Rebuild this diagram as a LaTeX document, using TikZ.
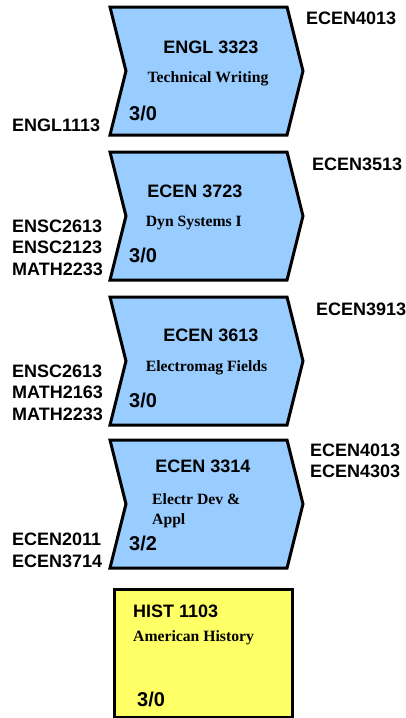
\documentclass[tikz,border=0pt]{standalone}
\usepackage{fontspec}
\setmainfont{Liberation Serif}
\newfontfamily\arialfont{Liberation Sans}
\usetikzlibrary{shapes.symbols,positioning}
\definecolor{courseblue}{RGB}{153,204,255}
\definecolor{courseyellow}{RGB}{255,255,102}

\begin{document}
\begin{tikzpicture}[x=1pt, y=-1pt,
  course/.style={draw, line width=3pt, fill=courseblue, signal, signal from=west, signal to=east, signal pointer angle=152, minimum width=193pt, minimum height=128pt, inner sep=0pt},
  elective/.style={draw, line width=3pt, fill=courseyellow, rectangle, minimum width=178pt, minimum height=128pt, inner sep=0pt},
  code/.style={font=\arialfont\bfseries\fontsize{18}{21.5}\selectfont, inner sep=0pt, anchor=base},
  credit/.style={font=\arialfont\bfseries\fontsize{20}{24}\selectfont, inner sep=0pt, anchor=base west},
  title/.style={font=\bfseries\fontsize{15.7}{20}\selectfont, inner sep=0pt, anchor=base},
  prereq/.style={font=\arialfont\bfseries\fontsize{18}{21.5}\selectfont, inner sep=0pt, anchor=base west, align=left}]
  \useasboundingbox (0,0) rectangle (406,718);

  % ENGL 3323
  \node[course] (engl) at (206.5,71) {};
  \node[code] (englcode) at (211,53.3) {ENGL 3323};
  \node[title] (engltitle) at (208,82.7) {Technical Writing};
  \node[credit] (englcredit) at (129,120) {3/0};
  \node[prereq] (englpre) at (12,131) {ENGL1113};
  \node[prereq] (englpost) at (306,24.3) {ECEN4013};

  % ECEN 3723 (multi-line nodes sit on their last baseline)
  \node[course] (dyn) at (206.5,216) {};
  \node[code] (dyncode) at (195,197.3) {ECEN 3723};
  \node[title, anchor=base west] (dyntitle) at (145.7,226) {Dyn Systems I};
  \node[credit] (dyncredit) at (129,262.7) {3/0};
  \node[prereq] (dynpre) at (12,275) {ENSC2613\\ENSC2123\\MATH2233};
  \node[prereq] (dynpost) at (312,170.7) {ECEN3513};

  % ECEN 3613
  \node[course] (emag) at (206.5,361) {};
  \node[code] (emagcode) at (211,341) {ECEN 3613};
  \node[title, anchor=base west] (emagtitle) at (145.7,371) {Electromag Fields};
  \node[credit] (emagcredit) at (129,407.7) {3/0};
  \node[prereq] (emagpre) at (12,420) {ENSC2613\\MATH2163\\MATH2233};
  \node[prereq] (emagpost) at (316,315.7) {ECEN3913};

  % ECEN 3314
  \node[course] (edev) at (206.5,504) {};
  \node[code] (edevcode) at (203,472.7) {ECEN 3314};
  \node[title, anchor=base west, align=left] (edevtitle) at (152,524) {Electr Dev \&\\Appl};
  \node[credit] (edevcredit) at (129,550.7) {3/2};
  \node[prereq] (edevpre) at (12,567.3) {ECEN2011\\ECEN3714};
  \node[prereq] (edevpost) at (310,477.7) {ECEN4013\\ECEN4303};

  % HIST 1103
  \node[elective] (hist) at (203,653) {};
  \node[code, anchor=base west] (histcode) at (133,617.3) {HIST 1103};
  \node[title, anchor=base west] (histtitle) at (133,641) {American History};
  \node[credit] (histcredit) at (137,706) {3/0};
\end{tikzpicture}
\end{document}
